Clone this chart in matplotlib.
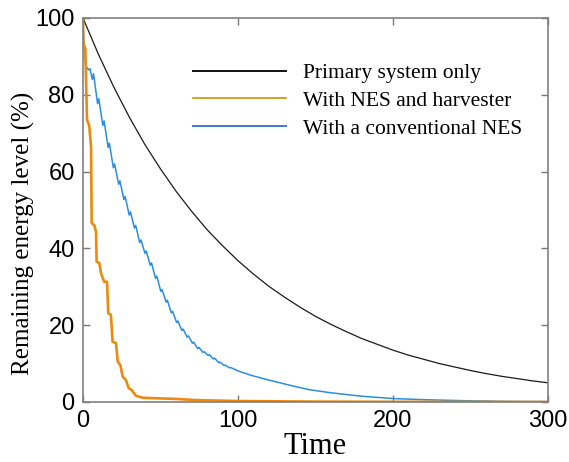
import matplotlib
matplotlib.use("Agg")
import matplotlib.pyplot as plt

# ---- data ----
black_t = [0, 10, 20, 30, 40, 50, 60, 70, 80, 90, 100, 110, 120, 130, 140, 150,
           160, 170, 180, 190, 200, 210, 220, 230, 240, 250, 260, 270, 280, 290, 300]
black_v = [100, 90.5, 81.9, 74.1, 67.0, 60.7, 54.9, 49.7, 44.9, 40.7, 36.8, 33.3,
           30.1, 27.3, 24.7, 22.3, 20.2, 18.3, 16.5, 15.0, 13.5, 12.2, 11.1, 10.0,
           9.1, 8.2, 7.4, 6.7, 6.1, 5.5, 5.0]

orange_t = [0, 0.2, 1.5, 2.6, 4.0, 5.2, 5.6, 7.3, 8.4, 8.8, 10.5, 11.6, 12.7, 13.7,
            15.5, 16.3, 18.0, 19.1, 21.3, 22.4, 24.1, 25.6, 27.7, 29.5, 31.4, 34.2,
            38.5, 45, 60, 73, 100, 150, 200, 300]
orange_v = [100, 93.5, 92, 73.4, 72, 66.5, 46.6, 46, 44.3, 36.5, 36.2, 33.6, 32.3,
            31.3, 31.3, 23.1, 22.7, 15.7, 15.3, 10.5, 9.6, 6.6, 5.7, 3.6, 3.1, 1.6,
            1.1, 1.0, 0.8, 0.5, 0.25, 0.1, 0.05, 0.0]

blue_t = [0, 0.5, 1.8, 3.5, 4.5,
          6.0, 6.8, 9.4, 10.2, 12.8, 13.6, 16.2, 17.0, 19.6, 20.4, 23.0, 23.8,
          26.4, 27.2, 29.8, 30.6, 33.2, 34.0, 36.6, 37.4, 40.0, 40.8, 43.4, 44.2,
          46.8, 47.6, 50.2, 51.0, 53.6, 54.4, 57.0, 57.8, 60.4, 61.2, 63.8, 64.6,
          67.2, 68.0, 70.6, 71.4, 74.0, 74.8, 77.4, 78.2, 80.8, 81.6, 84.2, 85.0,
          87.6, 88.4, 91.0, 91.8, 94.4, 95.2,
          100, 108, 120, 133, 146, 160, 180, 200, 220, 250, 275, 300]
blue_v = [100, 94, 87.5, 86.5, 86.8,
          84.0, 85.5, 77.7, 79.0, 72.0, 73.2, 66.3, 67.4, 61.0, 62.0, 56.7, 57.6,
          52.7, 53.5, 48.7, 49.5, 45.3, 46.0, 41.5, 42.2, 38.7, 39.3, 35.6, 36.2,
          32.2, 32.8, 28.8, 29.3, 26.0, 26.5, 23.2, 23.6, 20.7, 21.1, 18.6, 19.0,
          16.9, 17.2, 15.3, 15.6, 13.9, 14.2, 12.9, 13.1, 12.1, 12.3, 11.2, 11.4,
          10.2, 10.4, 9.5, 9.6, 8.9, 9.0,
          8.1, 7.0, 5.7, 4.4, 3.2, 2.4, 1.5, 0.9, 0.6, 0.3, 0.15, 0.1]

labels = ["Primary system only", "With NES and harvester", "With a conventional NES"]
xticks = [0, 100, 200, 300]
yticks = [0, 20, 40, 60, 80, 100]

# ---- figure ----
W, H = 569, 462
fig = plt.figure(figsize=(W / 100, H / 100), dpi=100)
ax = fig.add_axes([83 / W, 1 - 402 / H, (548 - 83) / W, (402 - 18) / H])

l1, = ax.plot(black_t, black_v, color="#1a1a1a", lw=0.9, label=labels[0])
l3, = ax.plot(blue_t, blue_v, color="#2a8ee0", lw=1.1, label=labels[2])
l2, = ax.plot(orange_t, orange_v, color="#eb8a0c", lw=1.9, label=labels[1])

ax.set_xlim(0, 300)
ax.set_ylim(0, 100)
ax.set_xticks(xticks)
ax.set_yticks(yticks)
ax.tick_params(direction="in", length=5, width=1, color="#777777",
               top=True, right=True, labelsize=17, pad=6)
for lab in ax.get_xticklabels() + ax.get_yticklabels():
    lab.set_family("Liberation Sans")
for s in ax.spines.values():
    s.set_color("#808080")
    s.set_linewidth(1.2)

ax.set_xlabel("Time", family="Liberation Serif", fontsize=22, labelpad=0)
fig.text(23.5 / W, 1 - 233 / H, "Remaining energy level (%)", rotation=90,
         ha="center", va="center", family="Liberation Serif", fontsize=18)

leg = ax.legend([l1, l2, l3], labels, loc="upper left",
                bbox_to_anchor=(196 / W - 0.005, 1 - 63 / H), bbox_transform=fig.transFigure,
                frameon=False, prop={"family": "Liberation Serif", "size": 15.5},
                handlelength=4.3, handletextpad=0.8, labelspacing=0.36, borderpad=0.0,
                borderaxespad=0)
for ln, c, w in zip(leg.get_lines(), ["#111111", "#d4900a", "#3a7bd5"], [1.4, 1.2, 1.4]):
    ln.set_color(c)
    ln.set_linewidth(w)

fig.savefig("out.png", dpi=100)
